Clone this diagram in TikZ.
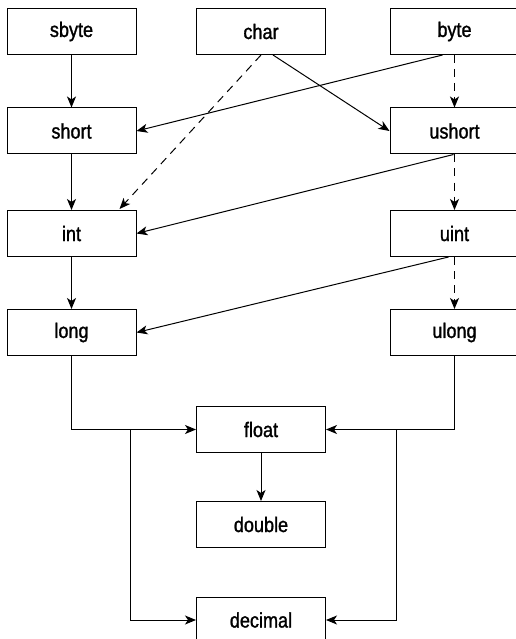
\documentclass[tikz,border=0pt]{standalone}
\usepackage{fontspec}
\setmainfont{Liberation Sans}[FakeStretch=0.86,FakeBold=1.3]
\usetikzlibrary{calc,arrows.meta}
\begin{document}
\begin{tikzpicture}[x=1pt,y=-1pt,
  typebox/.style={draw, line width=1pt, minimum width=129pt, minimum height=46pt, inner sep=0pt,
    font=\fontsize{21}{23}\selectfont},
  conn/.style={line width=1pt, -{Stealth[length=11pt,width=9pt,inset=3pt]}},
  dashconn/.style={conn, dash pattern=on 8pt off 6pt}]
\useasboundingbox (0,0) rectangle (515,639);
\node[typebox] (sbyte) at (71.5,31.5) {sbyte};
\node[typebox] (char) at (261,31.5) {char};
\node[typebox] (byte) at (454.5,31.5) {byte};
\node[typebox] (short) at (71.5,131) {short};
\node[typebox] (ushort) at (454.5,131) {ushort};
\node[typebox] (int) at (71.5,233.5) {int};
\node[typebox] (uint) at (454.5,233.5) {uint};
\node[typebox] (long) at (71.5,332.5) {long};
\node[typebox] (ulong) at (454.5,332.5) {ulong};
\node[typebox] (float) at (261,429.5) {float};
\node[typebox] (double) at (261,524.5) {double};
\node[typebox] (decimal) at (261,620) {decimal};

\draw[conn] (sbyte) -- (short);
\draw[conn] (short) -- (int);
\draw[conn] (int) -- (long);
\draw[dashconn] (byte) -- (ushort);
\draw[dashconn] (ushort) -- (uint);
\draw[dashconn] (uint) -- (ulong);
\draw[conn] ($(char.south)+(12,0)$) -- (ushort.west);
\draw[dashconn] (char.south) -- ($(int.north east)+(-17,-1)$);
\draw[conn] ($(byte.south)+(-12,0)$) -- (short.east);
\draw[conn] ($(ushort.south)+(-1,0)$) -- (int.east);
\draw[conn] ($(uint.south)+(-6,0)$) -- (long.east);
\draw[conn] (float) -- (double);
\draw[conn] (long.south) |- (float.west);
\draw[conn] (130,429.5) |- (decimal.west);
\draw[conn] (ulong.south) |- (float.east);
\draw[conn] (396,429.5) |- (decimal.east);
\end{tikzpicture}
\end{document}
